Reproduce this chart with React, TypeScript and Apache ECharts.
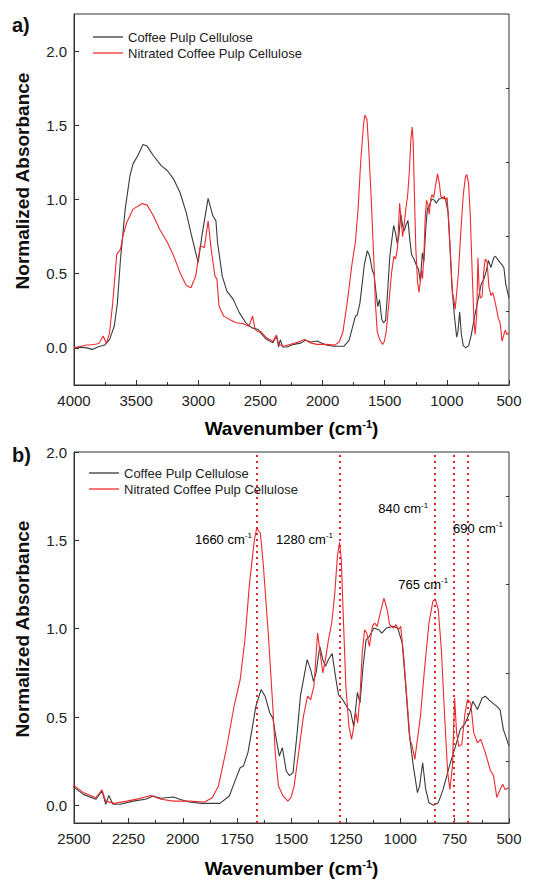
import React, { useEffect, useRef } from 'react';
import * as echarts from 'echarts';

// Coffee Pulp Cellulose (wavenumber cm-1, normalized absorbance)
const wnCPC = [4000, 3950, 3900, 3853, 3800, 3752, 3714, 3676, 3651, 3626, 3588, 3550, 3525, 3487, 3445, 3412, 3361, 3298, 3248, 3198, 3147, 3097, 3047, 3001, 2971, 2921, 2883, 2858, 2845, 2807, 2770, 2719, 2669, 2618, 2568, 2518,
  2497, 2457, 2400, 2371, 2354, 2340, 2321, 2286, 2229, 2171, 2136, 2100, 2043, 2014, 1971, 1914, 1829, 1786, 1757, 1736, 1721, 1700, 1679, 1664, 1640, 1621, 1600, 1586, 1570, 1556, 1542, 1524, 1510, 1493, 1474, 1459, 1445, 1428, 1412, 1399, 1387, 1370, 1356, 1344, 1330, 1313, 1298, 1284, 1265, 1243, 1229, 1214, 1204, 1197, 1185, 1171, 1157, 1142, 1121, 1099, 1085, 1063, 1034, 1012, 991, 976, 959, 940, 921, 911, 897, 883, 868, 847, 825, 803, 774, 746, 724, 702, 681, 666, 645, 623, 609, 586, 556, 541, 526, 500];
const absCPC = [0.0, 0.005, 0.0, -0.01, 0.01, 0.02, 0.056, 0.146, 0.30, 0.597, 0.935, 1.16, 1.24, 1.295, 1.37, 1.36, 1.295, 1.228, 1.194, 1.137, 1.047, 0.912, 0.732, 0.574, 0.755, 1.007, 0.89, 0.856, 0.71, 0.484, 0.383, 0.327, 0.236, 0.169, 0.135, 0.124,
  0.10, 0.062, 0.034, 0.081, 0.006, 0.056, 0.006, 0.006, 0.024, 0.034, 0.053, 0.04, 0.047, 0.034, 0.019, 0.011, 0.011, 0.053, 0.147, 0.213, 0.222, 0.30, 0.448, 0.56, 0.655, 0.617, 0.523, 0.495, 0.373, 0.279, 0.326, 0.194, 0.169, 0.185, 0.41, 0.618, 0.712, 0.825, 0.768, 0.702, 0.75, 0.90, 0.825, 0.787, 0.825, 0.859, 0.731, 0.627, 0.599, 0.552, 0.533, 0.448, 0.561, 0.64, 0.58, 0.787, 0.938, 0.957, 1.004, 0.994, 0.975, 1.004, 1.013, 1.004, 0.919, 0.693, 0.41, 0.222, 0.072, 0.109, 0.241, 0.09, 0.015, 0.0, 0.015, 0.09, 0.222, 0.335, 0.43, 0.463, 0.524, 0.589, 0.542, 0.608, 0.618, 0.59, 0.56, 0.54, 0.43, 0.335];

// Nitrated Coffee Pulp Cellulose
const wnNCPC = [4000, 3950, 3900, 3878, 3830, 3800, 3765, 3739, 3714, 3689, 3656, 3626, 3606, 3576, 3525, 3450, 3412, 3361, 3311, 3248, 3198, 3147, 3097, 3059, 3021, 2984, 2951, 2921, 2896, 2866, 2850, 2833, 2795, 2744, 2694, 2644, 2593, 2563, 2543, 2520,
  2497, 2457, 2400, 2371, 2354, 2314, 2257, 2200, 2146, 2100, 2043, 1971, 1900, 1864, 1836, 1800, 1764, 1736, 1714, 1693, 1671, 1660, 1643, 1629, 1607, 1586, 1575, 1560, 1539, 1517, 1503, 1488, 1467, 1445, 1426, 1412, 1397, 1380, 1368, 1356, 1344, 1330, 1315, 1301, 1289, 1279, 1271, 1262, 1250, 1236, 1224, 1213, 1204, 1196, 1185, 1175, 1164, 1154, 1142, 1128, 1118, 1106, 1092, 1075, 1060, 1049, 1031, 1020, 1008, 998, 984, 969, 955, 945, 933, 921, 907, 890, 868, 850, 839, 825, 811, 796, 782, 772, 760, 750, 741, 731, 717, 702, 691, 676, 662, 645, 630, 609, 586, 571, 556, 541, 529, 518, 500];
const absNCPC = [0.0, 0.01, 0.02, 0.02, 0.025, 0.03, 0.08, 0.03, 0.1, 0.30, 0.63, 0.664, 0.755, 0.845, 0.935, 0.973, 0.962, 0.89, 0.80, 0.71, 0.62, 0.507, 0.421, 0.405, 0.484, 0.687, 0.676, 0.856, 0.664, 0.484, 0.462, 0.28, 0.214, 0.19, 0.169, 0.164, 0.146, 0.214, 0.124, 0.11,
  0.11, 0.072, 0.043, 0.087, 0.024, 0.011, 0.024, 0.038, 0.056, 0.034, 0.024, 0.024, 0.019, 0.043, 0.109, 0.316, 0.561, 0.712, 0.938, 1.258, 1.50, 1.569, 1.54, 1.352, 0.976, 0.561, 0.30, 0.109, 0.053, 0.024, 0.043, 0.109, 0.298, 0.505, 0.618, 0.599, 0.674, 0.975, 0.862, 0.75, 0.825, 0.938, 1.032, 1.20, 1.409, 1.488, 1.39, 1.07, 0.674, 0.448, 0.373, 0.448, 0.524, 0.467, 0.618, 0.862, 0.994, 0.975, 0.90, 1.013, 1.032, 1.013, 1.088, 1.173, 1.107, 1.023, 1.004, 1.023, 0.994, 1.013, 0.844, 0.599, 0.373, 0.335, 0.26, 0.373, 0.505, 0.75, 1.032, 1.154, 1.168, 1.107, 0.881, 0.505, 0.185, 0.09, 0.222, 0.608, 0.41, 0.335, 0.345, 0.524, 0.599, 0.58, 0.41, 0.354, 0.373, 0.298, 0.2, 0.167, 0.045, 0.09, 0.12, 0.09, 0.10];

const seriesNames = ['Coffee Pulp Cellulose', 'Nitrated Coffee Pulp Cellulose'];
const yLabelValues = [0, 0.5, 1.0, 1.5, 2.0];
const yMinorValues = [0.25, 0.75, 1.25, 1.75];

// Peak markers (bottom panel)
const peakLineWn = [1660, 1280, 840, 752, 690];
const peakLabels = ['1660', '1280', '840', '765', '690'];
const peakLabelWn = [1682, 1309, 872, 780, 757];
const peakLabelAbs = [1.508, 1.508, 1.683, 1.255, 1.571];
const peakLabelAlign = ['right', 'right', 'right', 'right', 'left'];

const F = '"Liberation Sans", Arial, Helvetica, sans-serif';
const C_BLACK = '#3a3a3a';
const C_RED = '#ee2a2e';
const AX = '#333333';

const pairs = (xs: number[], ys: number[]) => xs.map((x, i) => [x, ys[i]]);

export default function App() {
  const ref = useRef<HTMLDivElement>(null);
  useEffect(() => {
    document.body.style.margin = '0';
    if (!ref.current) return;
    const chart = echarts.init(ref.current, undefined, { renderer: 'svg' });
    const black = pairs(wnCPC, absCPC);
    const red = pairs(wnNCPC, absNCPC);

    const grids = [
      { left: 74, top: 14, width: 435, height: 371 },
      { left: 74, top: 452, width: 435, height: 371 },
    ].map((g) => ({ ...g, show: true, borderColor: AX, borderWidth: 1, backgroundColor: 'transparent' }));

    const xAxisBase = (gi: number, max: number, interval: number) => ({
      type: 'value', gridIndex: gi, min: 500, max, interval, inverse: true,
      axisLine: { show: true, onZero: false, lineStyle: { color: AX, width: 1 } },
      axisTick: { show: true, inside: true, length: 5, lineStyle: { color: AX } },
      minorTick: { show: true, splitNumber: 2, length: 3, lineStyle: { color: AX } },
      axisLabel: { fontSize: 15, color: '#222', fontFamily: F, margin: 8, formatter: (v: number) => String(v) },
      splitLine: { show: false },
    });

    const yMain = (gi: number, min: number, max: number) => ({
      type: 'value', gridIndex: gi, min, max,
      axisLine: { show: true, onZero: false, lineStyle: { color: AX, width: 1 } },
      axisTick: { show: true, inside: true, length: 5, lineStyle: { color: AX }, customValues: yLabelValues },
      axisLabel: { fontSize: 15, color: '#222', fontFamily: F, margin: 7, customValues: yLabelValues, formatter: (v: number) => v.toFixed(1) },
      splitLine: { show: false },
    });
    const yMinor = (gi: number, min: number, max: number) => ({
      type: 'value', gridIndex: gi, min, max,
      axisLine: { show: false, onZero: false },
      axisTick: { show: true, inside: true, length: 3, lineStyle: { color: AX }, customValues: yMinorValues },
      axisLabel: { show: false, customValues: yMinorValues },
      splitLine: { show: false },
    });

    const line = (name: string, data: number[][], color: string, xi: number, yi: number) => ({
      type: 'line', name, data, xAxisIndex: xi, yAxisIndex: yi, symbol: 'none', showSymbol: false,
      lineStyle: { color, width: 1.1 }, itemStyle: { color }, clip: true, z: name === seriesNames[1] ? 3 : 2,
    });

    const legend = (left: number, top: number) => ({
      orient: 'vertical', left, top, itemWidth: 30, itemHeight: 1.3, itemGap: 1, icon: 'rect',
      data: seriesNames, selectedMode: false,
      textStyle: { fontSize: 13, color: '#222', fontFamily: F, lineHeight: 15 },
    });

    chart.setOption({
      animation: false,
      backgroundColor: '#ffffff',
      grid: grids,
      xAxis: [xAxisBase(0, 4000, 500), xAxisBase(1, 2500, 250)],
      yAxis: [yMain(0, -0.25, 2.25), yMinor(0, -0.25, 2.25), yMain(1, -0.1, 2.0), yMinor(1, -0.1, 2.0)],
      legend: [legend(88, 24.5), legend(84, 460.5)],
      series: [
        line(seriesNames[0], black, C_BLACK, 0, 0),
        line(seriesNames[1], red, C_RED, 0, 0),
        line(seriesNames[0], black, C_BLACK, 1, 2),
        line(seriesNames[1], red, C_RED, 1, 2),
        {
          type: 'line', name: 'peaks', data: [], xAxisIndex: 1, yAxisIndex: 2, symbol: 'none',
          markLine: {
            silent: true, symbol: ['none', 'none'], label: { show: false },
            lineStyle: { color: '#e3262b', type: [2, 4], width: 2 },
            data: peakLineWn.map((w) => ({ xAxis: w })),
          },
        },
      ],
    });

    const supRich = (size: number, sup: number, bold: boolean) => ({
      t: { fontSize: size, fontFamily: F, fontWeight: bold ? 'bold' : 'normal', color: '#111', verticalAlign: 'bottom', lineHeight: size + 1 },
      s: { fontSize: sup, fontFamily: F, fontWeight: bold ? 'bold' : 'normal', color: '#111', verticalAlign: 'top', lineHeight: size + 1 },
    });

    const peakTexts = peakLabels.map((lab, i) => {
      const p = chart.convertToPixel({ xAxisIndex: 1, yAxisIndex: 2 } as any, [peakLabelWn[i], peakLabelAbs[i]]) as number[];
      return {
        type: 'text', x: p[0], y: p[1], z: 10,
        style: {
          text: `{t|${lab} cm}{s|-1}`, align: peakLabelAlign[i], verticalAlign: 'middle',
          rich: supRich(13, 8, false),
        },
      };
    });

    const xTitle = (y: number) => ({
      type: 'text', x: 291.5, y, z: 10,
      style: { text: '{t|Wavenumber (cm}{s|-1}{t|)}', align: 'center', verticalAlign: 'middle', rich: supRich(19, 11, true) },
    });
    const yTitle = (y: number) => ({
      type: 'text', x: 22, y, rotation: Math.PI / 2, z: 10,
      style: { text: 'Normalized Absorbance', align: 'center', verticalAlign: 'middle', fontSize: 19, fontWeight: 'bold', fontFamily: F, fill: '#111' },
    });
    const panel = (t: string, y: number) => ({
      type: 'text', x: 12, y, z: 10,
      style: { text: t, align: 'left', verticalAlign: 'middle', fontSize: 20, fontWeight: 'bold', fontFamily: F, fill: '#111' },
    });

    chart.setOption({
      graphic: [
        xTitle(428), xTitle(868), yTitle(181), yTitle(629), panel('a)', 25), panel('b)', 455), ...peakTexts,
      ],
    });

    return () => chart.dispose();
  }, []);
  return <div ref={ref} style={{ width: 555, height: 880 }} />;
}
